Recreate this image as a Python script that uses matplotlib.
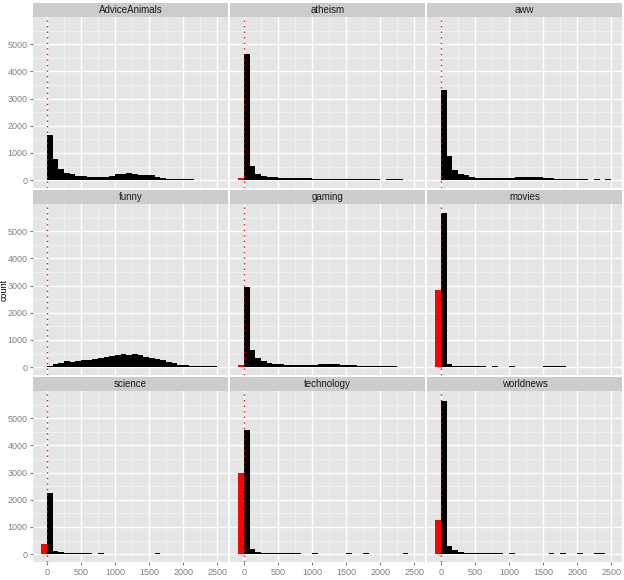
import numpy as np
import matplotlib
matplotlib.use('Agg')
import matplotlib.pyplot as plt

plt.rcParams['font.family'] = ['Liberation Sans', 'DejaVu Sans']

# bin settings (histogram bins of width 2500/30 starting at 0)
binwidth = 2500 / 30.0
n_bins = 30

subreddits = ['AdviceAnimals', 'atheism', 'aww',
              'funny', 'gaming', 'movies',
              'science', 'technology', 'worldnews']

# counts per bin (black, x >= 0)
advice_animals = [1660, 775, 406, 270, 210, 160, 135, 130, 130, 130, 130, 135, 210, 220, 250,
                  225, 205, 195, 170, 120, 70, 45, 30, 30, 28, 25, 0, 0, 0, 0]
atheism = [4650, 517, 234, 160, 100, 100, 95, 95, 90, 60, 60, 60, 55, 55, 55,
           55, 50, 35, 35, 35, 30, 25, 25, 25, 0, 25, 25, 25, 0, 0]
aww = [3320, 900, 370, 234, 170, 110, 85, 80, 80, 80, 80, 80, 80, 110, 110,
       130, 130, 120, 70, 60, 55, 35, 30, 25, 25, 25, 0, 25, 0, 25]
funny = [50, 110, 160, 210, 185, 220, 245, 280, 300, 345, 380, 405, 430, 467, 430,
         467, 455, 380, 345, 295, 245, 185, 135, 86, 60, 50, 30, 25, 25, 25]
gaming = [2950, 640, 345, 210, 135, 100, 100, 95, 90, 90, 90, 90, 90, 120, 120,
          120, 120, 90, 90, 85, 35, 35, 30, 25, 25, 25, 25, 0, 0, 0]
movies = [5660, 120, 50, 25, 25, 25, 25, 25, 0, 25, 0, 0, 25, 0, 0,
          0, 0, 0, 25, 25, 25, 25, 0, 0, 0, 0, 0, 0, 0, 0]
science = [2260, 123, 62, 50, 30, 30, 30, 30, 0, 25, 0, 0, 0, 0, 0,
           0, 0, 0, 0, 25, 0, 0, 0, 0, 0, 0, 0, 0, 0, 0]
technology = [4570, 185, 60, 37, 25, 25, 25, 25, 25, 25, 0, 0, 25, 0, 0,
              0, 0, 0, 25, 0, 0, 25, 0, 0, 0, 0, 0, 0, 25, 0]
worldnews = [5630, 284, 136, 74, 37, 37, 25, 25, 25, 25, 25, 0, 25, 0, 0,
             0, 0, 0, 0, 25, 0, 25, 0, 0, 25, 0, 0, 25, 25, 0]

# count in the bin just below zero (red)
negative_counts = [0, 80, 0, 0, 60, 2850, 370, 3000, 1270]

all_counts = [advice_animals, atheism, aww, funny, gaming, movies,
              science, technology, worldnews]

x_ticks = [0, 500, 1000, 1500, 2000, 2500]
y_ticks = [0, 1000, 2000, 3000, 4000, 5000]

W, H = 624, 580
fig = plt.figure(figsize=(W / 100, H / 100), dpi=100)

lefts = [33, 230, 427]
panel_w = 195
tops = [17, 204, 391]
panel_h = 171
strip_h = 14

edges = np.arange(n_bins) * binwidth

for i, name in enumerate(subreddits):
    row, col = divmod(i, 3)
    x0 = lefts[col]
    y_top = tops[row]
    ax = fig.add_axes([x0 / W, 1 - (y_top + panel_h) / H, panel_w / W, panel_h / H])
    ax.set_facecolor('#E5E5E5')

    # grid
    for xm in [250, 750, 1250, 1750, 2250]:
        ax.axvline(xm, color='#F2F2F2', lw=0.6, zorder=0)
    for ym in [500, 1500, 2500, 3500, 4500, 5500]:
        ax.axhline(ym, color='#F2F2F2', lw=0.6, zorder=0)
    for xt in x_ticks:
        ax.axvline(xt, color='white', lw=1.0, zorder=0.5)
    for yt in y_ticks:
        ax.axhline(yt, color='white', lw=1.0, zorder=0.5)

    ax.bar(edges, all_counts[i], width=binwidth, align='edge', color='black',
           linewidth=0, zorder=2)
    if negative_counts[i] > 0:
        ax.bar(-binwidth, negative_counts[i], width=binwidth, align='edge',
               color='red', linewidth=0, zorder=2)

    ax.axvline(0, color='red', lw=1.0, linestyle=(0, (1, 3)), zorder=3)

    ax.set_xlim(-205, 2660)
    ax.set_ylim(-290, 6000)
    for s in ax.spines.values():
        s.set_visible(False)

    ax.set_xticks(x_ticks)
    ax.set_yticks(y_ticks)
    ax.tick_params(colors='#7F7F7F', labelcolor='#7F7F7F', length=2.5, width=0.8,
                   labelsize=6.5, pad=1.5)
    if col != 0:
        ax.tick_params(axis='y', left=False, labelleft=False)
    if row != 2:
        ax.tick_params(axis='x', bottom=False, labelbottom=False)

    # facet strip
    sax = fig.add_axes([x0 / W, 1 - y_top / H, panel_w / W, strip_h / H])
    sax.set_facecolor('#CCCCCC')
    sax.set_xticks([])
    sax.set_yticks([])
    for s in sax.spines.values():
        s.set_visible(False)
    sax.text(0.5, 0.5, name, ha='center', va='center', fontsize=7, color='#1A1A1A',
             transform=sax.transAxes)

# axis title squeezed against the left edge, as in the source image
fig.text(0, 1 - 290 / H, 'count', rotation=90, ha='left', va='center',
         fontsize=6.5, color='black')

fig.savefig('out.png', dpi=100)
